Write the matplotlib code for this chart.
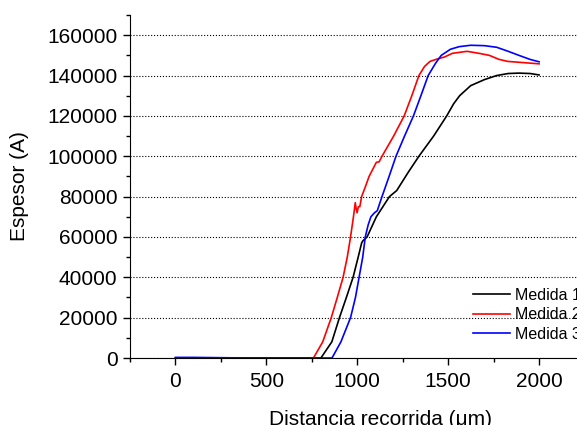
import matplotlib.pyplot as plt

plt.rcParams['font.family'] = ['Liberation Sans', 'DejaVu Sans']

# Medida 1 (black)
x1 = [0, 300, 600, 800, 860, 902, 940, 977, 1005, 1024, 1030, 1054, 1105, 1177, 1217, 1280,
      1339, 1420, 1492, 1530, 1563, 1624, 1700, 1767, 1830, 1889, 1950, 2000]
y1 = [0, 0, 0, 0, 8000, 20000, 30000, 40000, 50000, 57000, 58000, 60000, 70000, 80000, 83000, 92000,
      100000, 110000, 120000, 126000, 130000, 135000, 138000, 140000, 141000, 141200, 141000, 140300]

# Medida 2 (red)
x2 = [0, 300, 600, 759, 810, 857, 890, 922, 945, 963, 979, 989, 994, 999, 1006, 1014, 1024,
      1045, 1065, 1105, 1120, 1136, 1200, 1258, 1300, 1339, 1370, 1400, 1440, 1480, 1523, 1604,
      1670, 1726, 1780, 1828, 1900, 2000]
y2 = [0, 0, 0, 0, 8000, 20000, 30000, 40000, 50000, 60000, 70000, 77000, 74000, 72000, 75000, 75000, 80000,
      85000, 90000, 97000, 97200, 100000, 110000, 120000, 130000, 140000, 144500, 147000, 148200, 149200, 151000, 152000,
      151000, 150000, 148000, 147000, 146500, 145800]

# Medida 3 (blue)
x3 = [0, 100, 300, 600, 861, 910, 963, 990, 1010, 1030, 1044, 1060, 1075, 1095, 1110, 1136,
      1175, 1213, 1260, 1309, 1350, 1390, 1430, 1462, 1512, 1560, 1624, 1700, 1767, 1830, 1889,
      1950, 2000]
y3 = [300, 300, 100, 0, 0, 8000, 20000, 30000, 40000, 50000, 60000, 66000, 70000, 72000, 73000, 80000,
      90000, 100000, 110000, 120000, 130000, 140000, 146000, 150000, 153000, 154300, 155000, 154800, 154000, 152000, 150000,
      148000, 146800]

labels = ["Medida 1", "Medida 2", "Medida 3"]

fig = plt.figure(figsize=(5.77, 4.25), dpi=100)
# the axes runs past the right edge of the figure, as in the original
ax = fig.add_axes([130/577, 67/425, 500/577, 343/425])

ax.plot(x1, y1, color="black", lw=1.2, label=labels[0])
ax.plot(x2, y2, color="red", lw=1.2, label=labels[1])
ax.plot(x3, y3, color="blue", lw=1.2, label=labels[2])

ax.set_xlim(-250, 2500)
ax.set_ylim(0, 170000)
ax.set_xticks([0, 500, 1000, 1500, 2000])
ax.set_xticks(range(-250, 2501, 250), minor=True)
ax.set_yticks(range(0, 160001, 20000))
ax.set_yticks(range(0, 170001, 10000), minor=True)

ax.spines['top'].set_visible(False)
ax.spines['right'].set_visible(False)
ax.tick_params(which='major', direction='out', length=5, labelsize=15, width=1)
ax.tick_params(axis='x', which='major', pad=5)
ax.tick_params(axis='y', which='major', pad=4)
ax.tick_params(which='minor', direction='out', length=3, width=1)
ax.yaxis.grid(True, which='major', linestyle=':', color='black', lw=0.8)

ax.set_xlabel("Distancia recorrida (\u03bcm)", fontsize=15, labelpad=14)
ax.set_ylabel("Espesor (A)", fontsize=15, labelpad=13)

ax.legend(loc='upper left', bbox_to_anchor=(473/577, 1 - 288/425), bbox_transform=fig.transFigure,
          frameon=False, fontsize=11.5, handlelength=2.3, handletextpad=0.3, labelspacing=0.27,
          borderpad=0, borderaxespad=0)

fig.savefig("out.png", dpi=100)
